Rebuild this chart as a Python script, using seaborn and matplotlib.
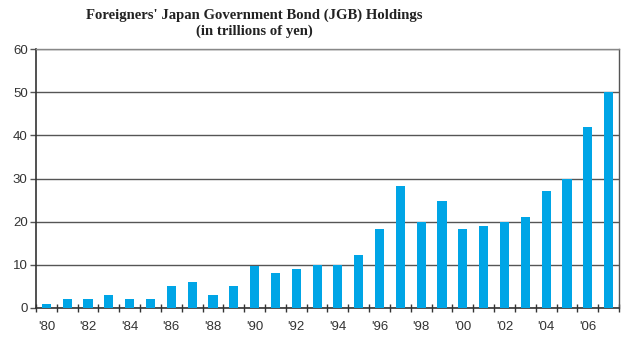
import numpy as np
import pandas as pd
import matplotlib
matplotlib.use("Agg")
import matplotlib.pyplot as plt
import seaborn as sns

years = list(range(1980, 2008))
values = [1, 2, 2, 3, 2, 2, 5, 6, 3, 5, 9.7, 8, 9, 10, 10, 12.2, 18.2, 28.2,
          20, 24.9, 18.2, 19, 19.9, 21.1, 27, 29.9, 42, 50]
tick_labels = ["'" + str(y)[2:] if y % 2 == 0 else "" for y in years]
title = "Foreigners' Japan Government Bond (JGB) Holdings\n(in trillions of yen)"

sns.set_theme(style="white")
plt.rcParams['font.family'] = ['Liberation Sans', 'DejaVu Sans']

df = pd.DataFrame({"year": [str(y) for y in years], "value": values})

fig = plt.figure(figsize=(6.4, 3.39), dpi=100)
ax = fig.add_axes([36/640, 1 - 308/339, (619-36)/640, (308-49)/339])
ax.set_axisbelow(True)

sns.barplot(data=df, x="year", y="value", color="#00a5e6", saturation=1,
            width=0.44, linewidth=0, edgecolor="none", ax=ax, zorder=3)

ax.set_ylim(0, 60)
ax.set_xlim(-0.5, len(years) - 0.5)
ax.set_yticks([0, 10, 20, 30, 40, 50, 60])
ax.set_yticklabels(["0", "10", "20", "30", "40", "50", "60"], fontsize=9.5, color="#333333")
ax.yaxis.grid(True, color="#555555", linewidth=1.0, zorder=0)
ax.set_xlabel("")
ax.set_ylabel("")

ax.set_xticks(range(len(years)))
ax.set_xticklabels(tick_labels, fontsize=9.5, color="#333333")
ax.set_xticks(np.arange(len(years) + 1) - 0.5, minor=True)
ax.tick_params(axis="x", which="major", bottom=True, length=0, pad=9)
ax.tick_params(axis="x", which="minor", bottom=True, direction="inout", length=6, width=1, color="#333333")
ax.tick_params(axis="y", which="major", left=True, direction="out", length=4, width=1, color="#555555", pad=2)

for side in ["left", "bottom"]:
    ax.spines[side].set_color("#333333")
    ax.spines[side].set_linewidth(1.2)
ax.spines["right"].set_color("#555555")
ax.spines["top"].set_color("#888888")
ax.spines["right"].set_linewidth(1.0)
ax.spines["top"].set_linewidth(1.0)

fig.text(254/640, 1 - 9/339, title, ha="center", va="top", fontsize=10.6, fontweight="bold",
         family=["Liberation Serif"], color="#222222", linespacing=1.15)

fig.savefig("out.png", dpi=100, facecolor="white")
